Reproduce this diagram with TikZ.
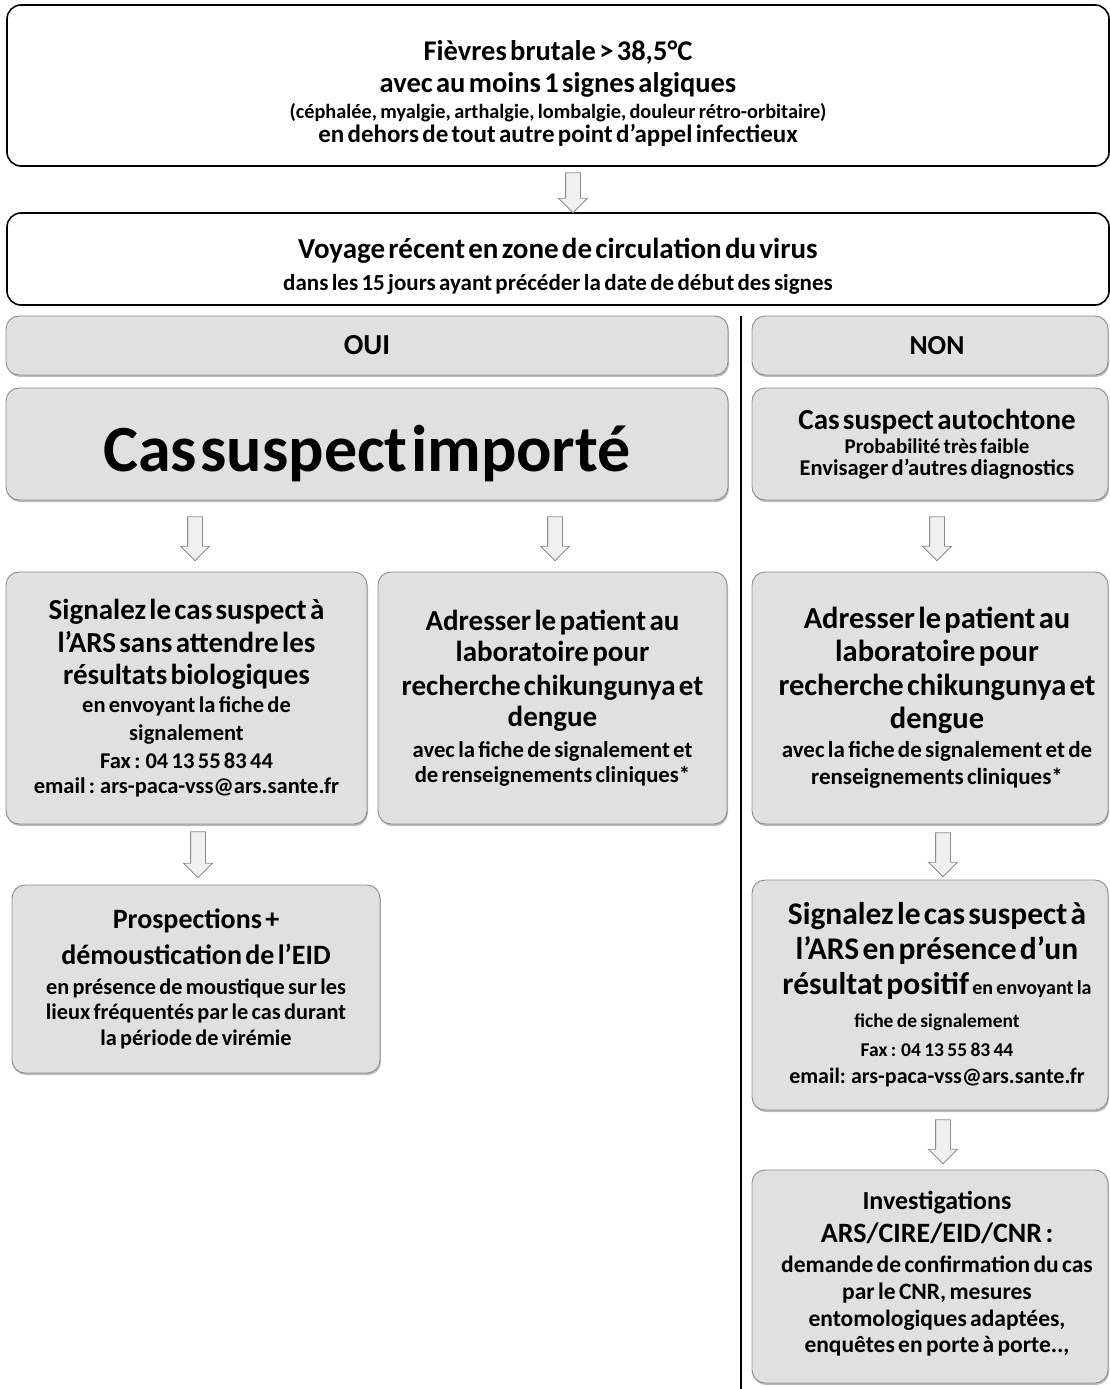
\documentclass[tikz,border=0pt]{standalone}
\usepackage{fontspec}
\setmainfont{Carlito}
\usetikzlibrary{shapes.arrows,shadows}
\newcommand{\lyne}[3]{{\fontsize{#1}{#2}\selectfont #3\par}}
\begin{document}
\begin{tikzpicture}[x=1pt,y=-1pt,
  wbox/.style={draw=black, line width=1.6pt, fill=white, rounded corners=14pt,
    align=center, inner sep=0pt, font=\bfseries},
  gbox/.style={draw=black!45, line width=0.9pt, fill=black!12, rounded corners=13pt,
    align=center, inner sep=0pt, font=\bfseries,
    drop shadow={shadow xshift=1pt, shadow yshift=-2pt, opacity=0.45, fill=black!60}},
  txt/.style={align=center, inner sep=0pt, font=\bfseries},
  darrow/.style={single arrow, rotate=-90, draw=black!45, fill=black!6, line width=0.8pt,
    inner sep=7pt, minimum width=28pt, single arrow head extend=7pt},
  sepline/.style={line width=1.3pt, draw=black}
]
\useasboundingbox (0,0) rectangle (1110,1389);

% top boxes
\node[wbox, minimum width=1102, minimum height=161] (fievre) at (558,85.5) {};
\node[txt, text width=1090] (fievreT) at ([yshift=-8pt]fievre.center)
 {\lyne{28.5}{30}{Fièvres brutale > 38,5°C}
  \lyne{28.5}{32}{avec au moins 1 signes algiques}
  \lyne{20.3}{26}{(céphalée, myalgie, arthalgie, lombalgie, douleur rétro-orbitaire)}
  \lyne{25}{24}{en dehors de tout autre point d'appel infectieux}};
\node[wbox, minimum width=1102, minimum height=92] (voyage) at (558,259) {};
\node[txt, text width=1090] (voyageT) at ([yshift=-7pt]voyage.center)
 {\lyne{29}{30}{Voyage récent en zone de circulation du virus}
  \lyne{23}{32}{dans les 15 jours ayant précéder la date de début des signes}};

% OUI / NON
\node[gbox, minimum width=722, minimum height=59, text width=700] (oui) at (367,345.5)
 {\lyne{29}{30}{OUI}};
\node[gbox, minimum width=356, minimum height=59, text width=340] (non) at (930,345.5)
 {\lyne{27.5}{30}{\hspace*{14pt}NON}};

% row 2
\node[gbox, minimum width=722, minimum height=112] (imp) at (367,444) {};
\node[txt, text width=700] (impT) at ([yshift=-10pt]imp.center)
 {\lyne{66}{70}{Cas suspect importé}};
\node[gbox, minimum width=356, minimum height=112, text width=350] (auto) at (930,444)
 {\lyne{29}{30}{\hspace*{14pt}Cas suspect autochtone}
  \lyne{21}{24}{\hspace*{14pt}Probabilité très faible}
  \lyne{22.5}{22}{\hspace*{14pt}Envisager d'autres diagnostics}};

% row 3
\node[gbox, minimum width=361, minimum height=252, text width=355] (sigL) at (186.5,698)
 {\lyne{29}{33}{Signalez le cas suspect à}
  \lyne{29}{33}{l'ARS sans attendre les}
  \lyne{29}{32}{résultats biologiques}
  \lyne{22.5}{28}{en envoyant la fiche de}
  \lyne{22.5}{28}{signalement}
  \lyne{22.5}{28}{Fax : 04 13 55 83 44}
  \lyne{22.5}{25}{email : ars-paca-vss@ars.sante.fr}};
\node[gbox, minimum width=349, minimum height=252, text width=343] (adrM) at (552.5,698)
 {\lyne{29}{32}{Adresser le patient au}
  \lyne{29}{31}{laboratoire pour}
  \lyne{29}{34}{recherche chikungunya et}
  \lyne{29}{31}{dengue}
  \lyne{22.7}{31}{avec la fiche de signalement et}
  \lyne{22.7}{25}{de renseignements cliniques*}};
\node[gbox, minimum width=356, minimum height=252, text width=352] (adrR) at (930,698)
 {\lyne{30.5}{33}{\hspace*{14pt}Adresser le patient au}
  \lyne{30.5}{33}{\hspace*{14pt}laboratoire pour}
  \lyne{30.5}{34}{\hspace*{14pt}recherche chikungunya et}
  \lyne{30.5}{33}{\hspace*{14pt}dengue}
  \lyne{23}{29}{\hspace*{14pt}avec la fiche de signalement et de}
  \lyne{23}{27}{\hspace*{14pt}renseignements cliniques*}};

% row 4
\node[gbox, minimum width=368, minimum height=188, text width=362] (prosp) at (196,979)
 {\lyne{28}{32}{Prospections +}
  \lyne{28}{36}{démoustication de l'EID}
  \lyne{22.3}{30}{en présence de moustique sur les}
  \lyne{22.3}{25}{lieux fréquentés par le cas durant}
  \lyne{22.3}{26}{la période de virémie}};
\node[gbox, minimum width=356, minimum height=230, text width=352] (sigR) at (930,995)
 {\lyne{31.5}{35}{\hspace*{14pt}Signalez le cas suspect à}
  \lyne{31.5}{35}{\hspace*{14pt}l'ARS en présence d'un}
  {\fontsize{31.5}{35}\selectfont \hspace*{14pt}résultat positif {\fontsize{20}{35}\selectfont en envoyant la}\par}
  \lyne{19.5}{33}{\hspace*{14pt}fiche de signalement}
  \lyne{19.5}{29}{\hspace*{14pt}Fax : 04 13 55 83 44}
  \lyne{22}{27}{\hspace*{14pt}email: ars-paca-vss@ars.sante.fr}};

% row 5
\node[gbox, minimum width=356, minimum height=213] (inv) at (930,1276.5) {};
\node[txt, text width=352] (invT) at ([yshift=3pt]inv.center)
 {\lyne{26}{32}{\hspace*{14pt}Investigations}
  \lyne{28}{33}{\hspace*{14pt}ARS/CIRE/EID/CNR :}
  \lyne{23.5}{30}{\hspace*{14pt}demande de confirmation du cas}
  \lyne{23.5}{27}{\hspace*{14pt}par le CNR, mesures}
  \lyne{23.5}{27}{\hspace*{14pt}entomologiques adaptées,}
  \lyne{23.5}{26}{\hspace*{14pt}enquêtes en porte à porte..,}};

% separator
\coordinate (vtop) at (741,316);
\coordinate (vbot) at (741,1389);
\draw[sepline] (vtop) -- (vbot);

% block arrows
\node[darrow, minimum height=40] (ar1) at (573,189) {};
\node[darrow, minimum height=44] (ar2) at (195,535) {};
\node[darrow, minimum height=44] (ar3) at (555,535) {};
\node[darrow, minimum height=44] (ar4) at (937,535) {};
\node[darrow, minimum height=46] (ar5) at (198,851) {};
\node[darrow, minimum height=44] (ar6) at (943,851) {};
\node[darrow, minimum height=44] (ar7) at (943,1138) {};
\end{tikzpicture}
\end{document}
